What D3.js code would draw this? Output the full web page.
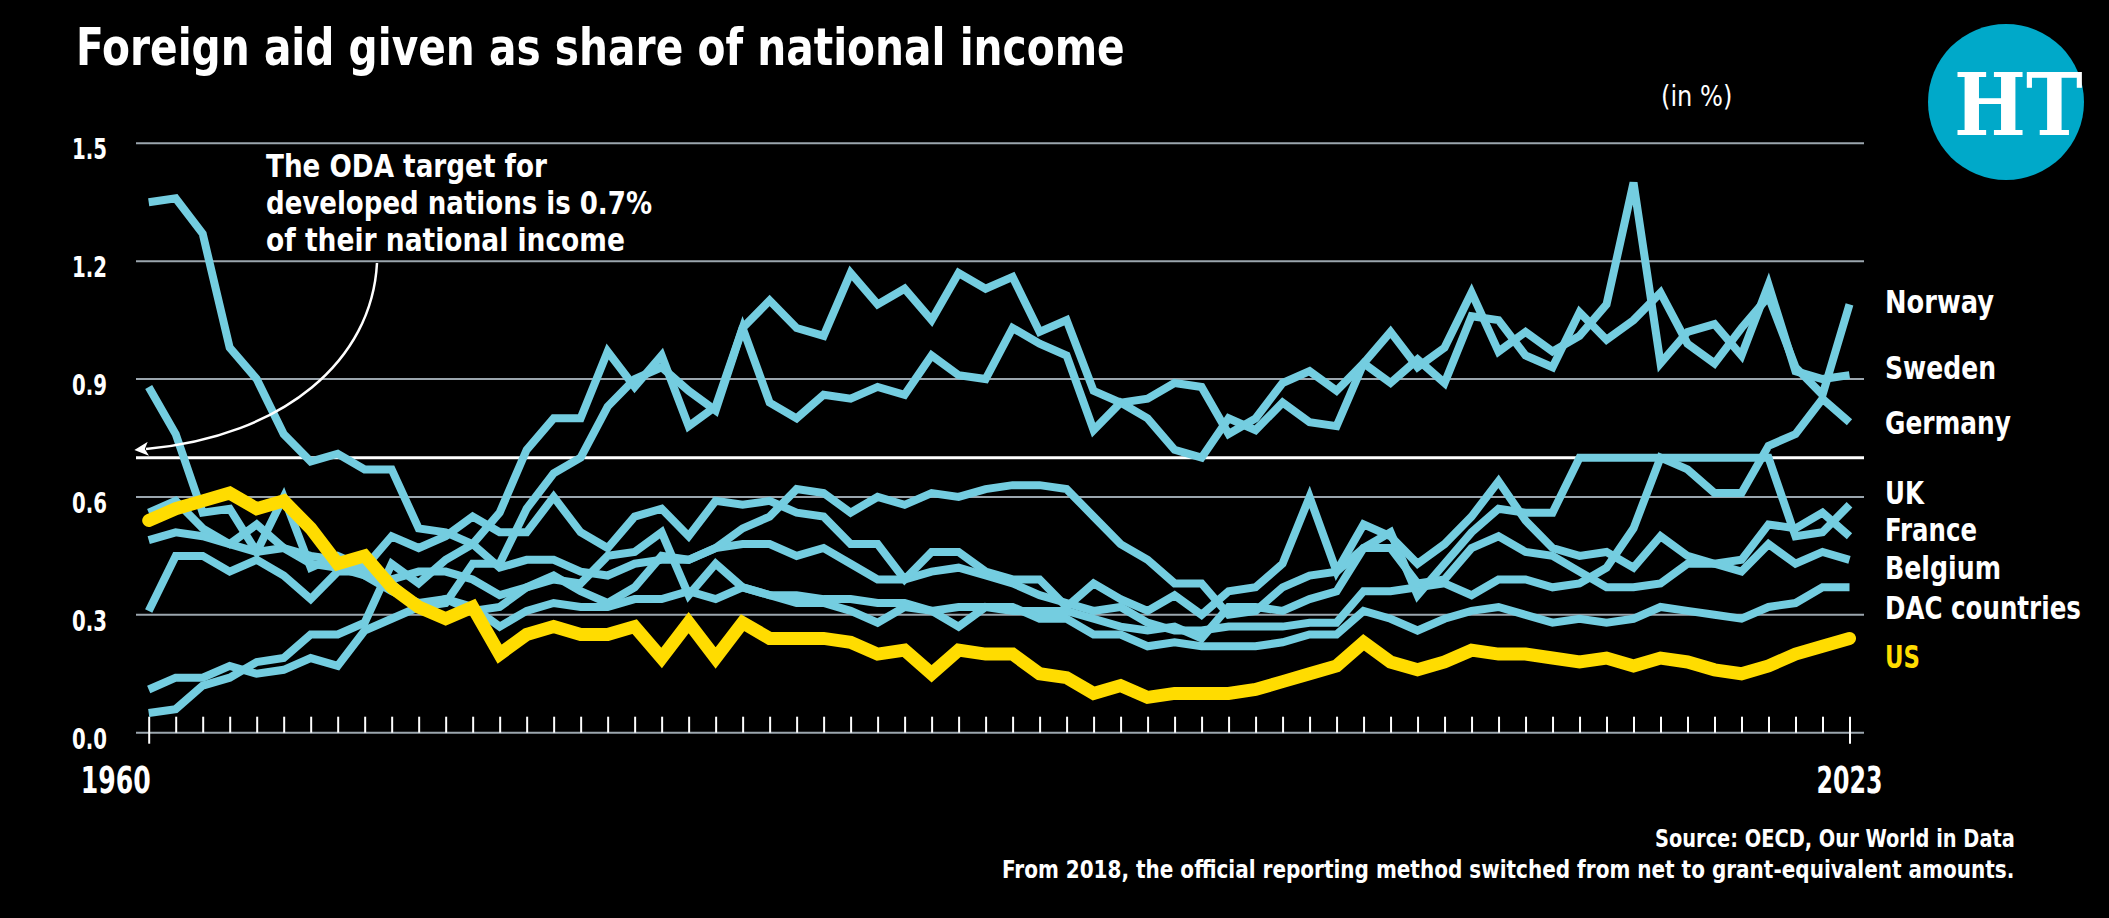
<!DOCTYPE html>
<html lang="en">
<head>
<meta charset="utf-8">
<title>Foreign aid given as share of national income</title>
<script src="https://d3js.org/d3.v7.min.js"></script>
<style>
  body { margin: 0; background: #000; }
  svg { display: block; }
  text { font-family: "DejaVu Sans Condensed", "DejaVu Sans", sans-serif; font-weight: bold; fill: #fff; }
</style>
</head>
<body>
<div id="chart"></div>
<script>
// Data: ODA as % of GNI, 1960-2023
const years = d3.range(1960, 2024);

const norway = [
  0.11, 0.14, 0.14, 0.17, 0.15, 0.16, 0.19, 0.17, 0.26, 0.29,
  0.32, 0.33, 0.43, 0.43, 0.57, 0.66, 0.70, 0.83, 0.90, 0.93,
  0.87, 0.82, 1.03, 1.10, 1.03, 1.01, 1.17, 1.09, 1.13, 1.05,
  1.17, 1.13, 1.16, 1.02, 1.05, 0.87, 0.84, 0.85, 0.89, 0.88,
  0.76, 0.80, 0.89, 0.92, 0.87, 0.94, 0.89, 0.95, 0.89, 1.06,
  1.05, 0.96, 0.93, 1.07, 1.00, 1.05, 1.12, 0.99, 0.94, 1.03,
  1.11, 0.93, 0.86, 1.09
];
const sweden = [
  0.05, 0.06, 0.12, 0.14, 0.18, 0.19, 0.25, 0.25, 0.28, 0.43,
  0.38, 0.44, 0.48, 0.56, 0.72, 0.80, 0.80, 0.97, 0.88, 0.96,
  0.78, 0.83, 1.03, 0.84, 0.80, 0.86, 0.85, 0.88, 0.86, 0.96,
  0.91, 0.90, 1.03, 0.99, 0.96, 0.77, 0.84, 0.80, 0.72, 0.70,
  0.80, 0.77, 0.84, 0.79, 0.78, 0.94, 1.02, 0.93, 0.98, 1.12,
  0.97, 1.02, 0.97, 1.01, 1.09, 1.40, 0.94, 1.02, 1.04, 0.96,
  1.14, 0.92, 0.90, 0.91
];
const germany = [
  0.31, 0.45, 0.45, 0.41, 0.44, 0.40, 0.34, 0.41, 0.41, 0.38,
  0.32, 0.34, 0.31, 0.32, 0.37, 0.40, 0.36, 0.33, 0.37, 0.45,
  0.44, 0.47, 0.48, 0.48, 0.45, 0.47, 0.43, 0.39, 0.39, 0.41,
  0.42, 0.40, 0.38, 0.35, 0.33, 0.31, 0.32, 0.28, 0.26, 0.26,
  0.27, 0.27, 0.27, 0.28, 0.28, 0.36, 0.36, 0.37, 0.38, 0.35,
  0.39, 0.39, 0.37, 0.38, 0.42, 0.52, 0.70, 0.67, 0.61, 0.61,
  0.73, 0.76, 0.85, 0.79
];
const uk = [
  0.56, 0.59, 0.52, 0.48, 0.53, 0.47, 0.45, 0.44, 0.40, 0.39,
  0.41, 0.41, 0.39, 0.35, 0.37, 0.39, 0.38, 0.45, 0.46, 0.51,
  0.35, 0.43, 0.37, 0.35, 0.33, 0.33, 0.31, 0.28, 0.32, 0.31,
  0.27, 0.32, 0.31, 0.31, 0.31, 0.29, 0.27, 0.26, 0.27, 0.24,
  0.32, 0.32, 0.31, 0.34, 0.36, 0.47, 0.51, 0.35, 0.43, 0.51,
  0.57, 0.56, 0.56, 0.70, 0.70, 0.70, 0.70, 0.70, 0.70, 0.70,
  0.70, 0.50, 0.51, 0.58
];
const france = [
  1.35, 1.36, 1.27, 0.98, 0.90, 0.76, 0.69, 0.71, 0.67, 0.67,
  0.52, 0.51, 0.48, 0.42, 0.44, 0.44, 0.41, 0.40, 0.43, 0.44,
  0.44, 0.47, 0.52, 0.55, 0.62, 0.61, 0.56, 0.60, 0.58, 0.61,
  0.60, 0.62, 0.63, 0.63, 0.62, 0.55, 0.48, 0.44, 0.38, 0.38,
  0.30, 0.31, 0.37, 0.40, 0.41, 0.47, 0.47, 0.38, 0.39, 0.47,
  0.50, 0.46, 0.45, 0.41, 0.37, 0.37, 0.38, 0.43, 0.43, 0.44,
  0.53, 0.52, 0.56, 0.50
];
const belgium = [
  0.88, 0.76, 0.56, 0.57, 0.46, 0.60, 0.42, 0.45, 0.42, 0.50,
  0.47, 0.50, 0.55, 0.51, 0.51, 0.60, 0.51, 0.47, 0.55, 0.57,
  0.50, 0.59, 0.58, 0.59, 0.56, 0.55, 0.48, 0.48, 0.39, 0.46,
  0.46, 0.41, 0.39, 0.39, 0.32, 0.38, 0.34, 0.31, 0.35, 0.30,
  0.36, 0.37, 0.43, 0.60, 0.41, 0.53, 0.50, 0.43, 0.48, 0.55,
  0.64, 0.54, 0.47, 0.45, 0.46, 0.42, 0.50, 0.45, 0.43, 0.41,
  0.48, 0.43, 0.46, 0.44
];
const dac = [
  0.49, 0.51, 0.50, 0.48, 0.46, 0.47, 0.43, 0.42, 0.40, 0.36,
  0.33, 0.34, 0.32, 0.27, 0.31, 0.33, 0.32, 0.32, 0.34, 0.34,
  0.36, 0.34, 0.37, 0.35, 0.35, 0.34, 0.34, 0.33, 0.33, 0.31,
  0.32, 0.32, 0.32, 0.29, 0.29, 0.25, 0.25, 0.22, 0.23, 0.22,
  0.22, 0.22, 0.23, 0.25, 0.25, 0.31, 0.29, 0.26, 0.29, 0.31,
  0.32, 0.30, 0.28, 0.29, 0.28, 0.29, 0.32, 0.31, 0.30, 0.29,
  0.32, 0.33, 0.37, 0.37
];
const us = [
  0.54, 0.57, 0.59, 0.61, 0.57, 0.59, 0.52, 0.43, 0.45, 0.37,
  0.32, 0.29, 0.32, 0.20, 0.25, 0.27, 0.25, 0.25, 0.27, 0.19,
  0.28, 0.19, 0.28, 0.24, 0.24, 0.24, 0.23, 0.20, 0.21, 0.15,
  0.21, 0.20, 0.20, 0.15, 0.14, 0.10, 0.12, 0.09, 0.10, 0.10,
  0.10, 0.11, 0.13, 0.15, 0.17, 0.23, 0.18, 0.16, 0.18, 0.21,
  0.20, 0.20, 0.19, 0.18, 0.19, 0.17, 0.19, 0.18, 0.16, 0.15,
  0.17, 0.20, 0.22, 0.24
];

const countryNames = ["Norway", "Sweden", "Germany", "UK", "France", "Belgium", "DAC countries", "US"];
const countryValues = [norway, sweden, germany, uk, france, belgium, dac, us];
const yTicks = [0, 0.3, 0.6, 0.9, 1.2, 1.5];
const yearLabels = [1960, 2023];
const targetValue = 0.7;

// Layout (label baselines hand-placed like the original)
const W = 2109, H = 918;
const labelBaseline = [313, 379, 434, 504, 541, 579, 619, 668];
const labelWidth = [109, 111, 126, 39, 92, 116, 196, 35];
const blue = "#74cde0", yellow = "#ffdc00", grid = "#9ba6ae";

const svg = d3.select("#chart").append("svg")
  .attr("width", W)
  .attr("height", H)
  .style("background", "#000");

const x = d3.scaleLinear().domain([1960, 2023]).range([148.7, 1849.5]);
const y = d3.scaleLinear().domain([0, 1.5]).range([732.7, 143.3]);
const gridLeft = 136, gridRight = 1864;

// squeeze a text horizontally to a given width (the original uses a condensed face)
// anchor: 0 = start, 0.5 = middle, 1 = end
function label(parent, str, px, py, w, size, anchor = 0) {
  const t = parent.append("text").style("font-size", size + "px").text(str);
  const n = t.node().getComputedTextLength();
  const k = w / n;
  t.attr("transform", `translate(${px - anchor * w},${py}) scale(${k},1)`);
  return t;
}

// Title
label(svg, "Foreign aid given as share of national income", 76, 65, 1049, 51);

label(svg, "(in %)", 1701, 106, 80, 29, 0.5).style("font-weight", "normal");

// HT logo
const logo = svg.append("g").attr("transform", "translate(2006,102)");
logo.append("circle").attr("r", 78).attr("fill", "#00a9c9");
label(logo, "HT", 0, 33, 104, 86, 0.5)
  .style("font-family", "'DejaVu Serif', serif");

// Gridlines
svg.append("g")
  .selectAll("line")
  .data(yTicks)
  .join("line")
  .attr("x1", gridLeft).attr("x2", gridRight)
  .attr("y1", d => y(d)).attr("y2", d => y(d))
  .attr("stroke", grid).attr("stroke-width", 2);

yTicks.forEach(d => label(svg, d3.format(".1f")(d), 107, y(d) + 16, 35, 29, 1));

// 0.7% target line
svg.append("line")
  .attr("x1", gridLeft).attr("x2", gridRight)
  .attr("y1", y(targetValue)).attr("y2", y(targetValue))
  .attr("stroke", "#fff").attr("stroke-width", 3);

// Year ticks
const xAxis = svg.append("g")
  .attr("transform", `translate(0,${y(0)})`)
  .call(d3.axisBottom(x).tickValues(years).tickSize(-16).tickFormat(""));
xAxis.select(".domain").remove();
xAxis.selectAll(".tick line").attr("stroke", "#fff").attr("stroke-width", 2)
  .attr("y1", d => yearLabels.includes(d) ? 11 : 0);

label(svg, "1960", x(1960) + 2, 793, 70, 38, 1);
label(svg, "2023", x(2023), 793, 66, 38, 0.5);

// Lines
const line = d3.line()
  .x((d, i) => x(years[i]))
  .y(d => y(d));

svg.append("g")
  .selectAll("path")
  .data(countryValues.slice(0, 7))
  .join("path")
  .attr("d", line)
  .attr("fill", "none")
  .attr("stroke", blue)
  .attr("stroke-width", 8);

svg.append("path")
  .attr("d", line(us))
  .attr("fill", "none")
  .attr("stroke", yellow)
  .attr("stroke-width", 13)
  .attr("stroke-linecap", "round");

// End labels
countryNames.forEach((name, i) => {
  label(svg, name, 1885, labelBaseline[i], labelWidth[i], 32)
    .style("fill", name === "US" ? yellow : "#fff");
});

// Annotation
const note = ["The ODA target for", "developed nations is 0.7%", "of their national income"];
const noteWidth = [281, 386, 359];
note.forEach((t, i) => label(svg, t, 266, 177 + i * 37, noteWidth[i], 31.5));

svg.append("defs").append("marker")
  .attr("id", "head")
  .attr("viewBox", "0 -6 12 12")
  .attr("refX", 2).attr("refY", 0)
  .attr("markerUnits", "userSpaceOnUse")
  .attr("markerWidth", 14).attr("markerHeight", 14)
  .attr("orient", "auto")
  .append("path")
  .attr("d", "M0,-6L12,0L0,6L3,0Z")
  .attr("fill", "#fff");

svg.append("path")
  .attr("d", "M377,263 C372,360 285,436 146,449")
  .attr("fill", "none")
  .attr("stroke", "#fff")
  .attr("stroke-width", 2.5)
  .attr("marker-end", "url(#head)");

// Footer
label(svg, "Source: OECD, Our World in Data", 2015, 847, 360, 25, 1);
label(svg, "From 2018, the official reporting method switched from net to grant-equivalent amounts.", 2015, 878, 1013, 25, 1);
</script>
</body>
</html>
